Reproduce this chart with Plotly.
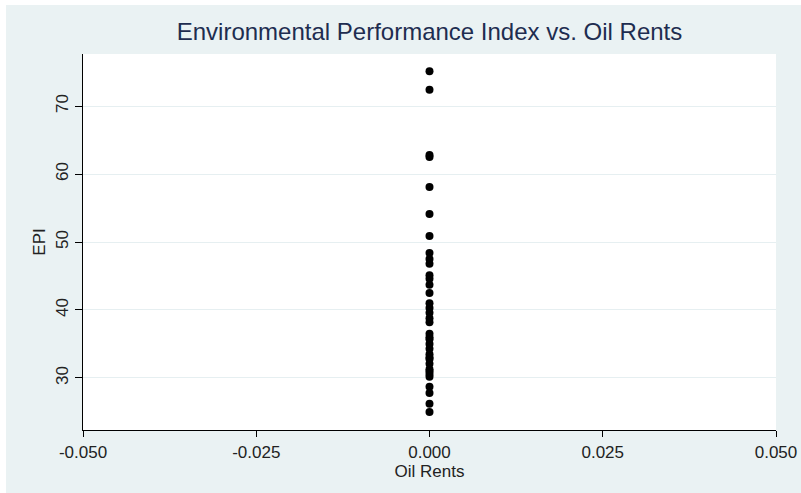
import plotly.graph_objects as go

oil_rents = [0.0] * 36
epi = [75.1, 72.4, 62.8, 62.5, 58.1, 54.1, 50.9,
       48.4, 47.5, 46.8, 45.1, 44.6, 43.7, 42.5,
       41.0, 40.3, 39.6, 38.8, 38.2,
       36.5, 35.7, 35.0, 34.3, 33.5, 32.8, 32.1, 31.3, 30.6, 30.2,
       28.7, 27.8, 26.2, 25.0, 36.0, 33.0, 31.0]

x_ticks = [-0.05, -0.025, 0.0, 0.025, 0.05]
x_tick_labels = ["-0.050", "-0.025", "0.000", "0.025", "0.050"]
y_ticks = [30, 40, 50, 60, 70]

fig = go.Figure()
fig.add_trace(go.Scatter(x=oil_rents, y=epi, mode="markers",
                         marker=dict(color="black", size=8), showlegend=False))

W, H = 801, 493
L, T = 83, 54
pw, ph = 693, 376
R, B = W - L - pw, H - T - ph

fig.update_layout(
    width=W, height=H, autosize=False,
    margin=dict(l=L, r=R, t=T, b=B, autoexpand=False),
    paper_bgcolor="#EAF2F3", plot_bgcolor="white",
    font=dict(family="Liberation Sans, Arial, sans-serif", size=17, color="#222222"),
    title=dict(text="Environmental Performance Index vs. Oil Rents",
               x=0.5, xref="paper", xanchor="center", y=1 - 32 / H, yanchor="middle",
               font=dict(size=24, color="#1e2d50")),
    xaxis=dict(range=[-0.05, 0.05], tickvals=x_ticks, ticktext=x_tick_labels,
               automargin=False, ticklabeloverflow="allow",
               showgrid=False, zeroline=False, showline=True, linecolor="black",
               linewidth=1.3, ticks="outside", ticklen=6, tickcolor="black",
               title=dict(text="Oil Rents", standoff=4, font=dict(size=17))),
    yaxis=dict(range=[22.35, 77.65], tickvals=y_ticks, tickangle=-90, automargin=False,
               showgrid=True, gridcolor="#E6EFF1", gridwidth=1, zeroline=False,
               showline=True, linecolor="black", linewidth=1.3,
               ticks="outside", ticklen=7, tickcolor="black",
               title=dict(text="EPI", standoff=3, font=dict(size=17))),
    shapes=[dict(type="rect", xref="paper", yref="paper",
                 x0=-L / pw, x1=(6 - L) / pw, y0=-B / ph, y1=(ph + T) / ph,
                 fillcolor="white", line=dict(width=0), layer="below"),
            dict(type="rect", xref="paper", yref="paper",
                 x0=-L / pw, x1=(pw + R) / pw, y0=(ph + T - 5) / ph, y1=(ph + T) / ph,
                 fillcolor="white", line=dict(width=0), layer="below")],
)

fig.write_html(
    "out.html",
    config={"responsive": False, "displayModeBar": False},
    post_script="document.body.style.margin='0px';document.body.style.overflow='hidden';",
)
